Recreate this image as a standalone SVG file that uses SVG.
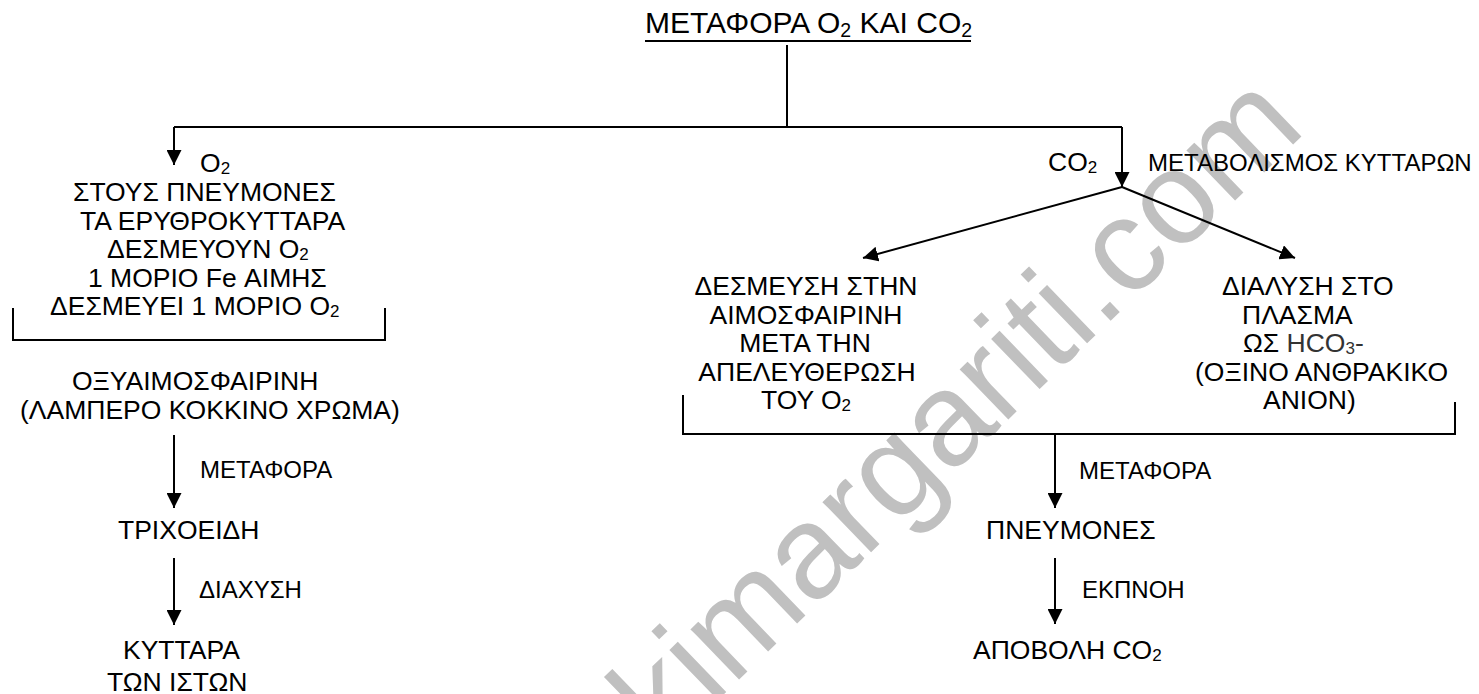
<svg xmlns="http://www.w3.org/2000/svg" width="1479" height="694" viewBox="0 0 1479 694">
<defs>
<style>
text{font-family:"Liberation Sans",Arial,sans-serif;fill:#000}
.m{font-size:26.5px}
.l{font-size:24px}
.t{font-size:30px}
.c{text-anchor:middle}
.wm{font-family:"Liberation Sans",Arial,sans-serif;font-size:132px;fill:#c0c0c0}
.ln{stroke:#000;stroke-width:2;fill:none}
</style>
<marker id="ah" viewBox="0 0 10 10" refX="10" refY="5" markerWidth="15" markerHeight="15" markerUnits="userSpaceOnUse" orient="auto">
<path d="M0,0 L10,5 L0,10 z" fill="#000"/>
</marker>
</defs>
<rect width="1479" height="694" fill="#fff"/>
<text class="wm" x="664" y="752" transform="rotate(-44 664 752)">kimargariti.com</text>

<g id="connectors">
<path class="ln" d="M787,45 V127"/>
<path class="ln" d="M174,127 H1122"/>
<path class="ln" d="M174,127 V165" marker-end="url(#ah)"/>
<path class="ln" d="M1122,127 V187" marker-end="url(#ah)"/>
<path class="ln" d="M1122,187 L863,258" marker-end="url(#ah)"/>
<path class="ln" d="M1122,187 L1295,258" marker-end="url(#ah)"/>
<path class="ln" d="M13,308 V340 H385 V308"/>
<path class="ln" d="M683,395 V434 H1455 V402"/>
<path class="ln" d="M174,435 V508" marker-end="url(#ah)"/>
<path class="ln" d="M174,558 V625" marker-end="url(#ah)"/>
<path class="ln" d="M1055,434 V508" marker-end="url(#ah)"/>
<path class="ln" d="M1055,558 V624" marker-end="url(#ah)"/>
</g>

<g id="title">
<text class="t" x="645" y="33">ΜΕΤΑΦΟΡΑ O<tspan font-size="19.5" dy="4">2</tspan><tspan dy="-4"> ΚΑΙ CO</tspan><tspan font-size="19.5" dy="4">2</tspan></text>
<path class="ln" d="M645,41 H971"/>
</g>

<g id="o2-node">
<text class="m" x="200" y="172">O<tspan font-size="17" dy="2">2</tspan></text>
<text class="m" x="73" y="201">ΣΤΟΥΣ ΠΝΕΥΜΟΝΕΣ</text>
<text class="m" x="80" y="230">ΤΑ ΕΡΥΘΡΟΚΥΤΤΑΡΑ</text>
<text class="m" x="107" y="258">ΔΕΣΜΕΥΟΥΝ O<tspan font-size="17" dy="2">2</tspan></text>
<text class="m" x="88" y="287">1 ΜΟΡΙΟ Fe ΑΙΜΗΣ</text>
<text class="m" x="50" y="315">ΔΕΣΜΕΥΕΙ 1 ΜΟΡΙΟ O<tspan font-size="17" dy="2">2</tspan></text>
</g>

<g id="oxyhemoglobin">
<text class="m" x="72" y="390">ΟΞΥΑΙΜΟΣΦΑΙΡΙΝΗ</text>
<text class="m" x="20" y="419">(ΛΑΜΠΕΡΟ ΚΟΚΚΙΝΟ ΧΡΩΜΑ)</text>
</g>
<g id="label-metafora-left"><text class="l" x="200" y="478">ΜΕΤΑΦΟΡΑ</text></g>
<g id="capillaries"><text class="m" x="118" y="539">ΤΡΙΧΟΕΙΔΗ</text></g>
<g id="label-diachysi"><text class="l" x="199" y="598">ΔΙΑΧΥΣΗ</text></g>
<g id="tissue-cells">
<text class="m" x="123" y="659">ΚΥΤΤΑΡΑ</text>
<text class="m" x="107" y="691">ΤΩΝ ΙΣΤΩΝ</text>
</g>

<g id="co2-node">
<text class="m" x="1048" y="171">CO<tspan font-size="17" dy="2">2</tspan></text>
<text class="l" x="1148" y="171">ΜΕΤΑΒΟΛΙΣΜΟΣ ΚΥΤΤΑΡΩΝ</text>
</g>

<g id="hemoglobin-binding">
<text class="m c" x="806" y="295">ΔΕΣΜΕΥΣΗ ΣΤΗΝ</text>
<text class="m c" x="806" y="324">ΑΙΜΟΣΦΑΙΡΙΝΗ</text>
<text class="m c" x="805" y="352">ΜΕΤΑ ΤΗΝ</text>
<text class="m c" x="807" y="381">ΑΠΕΛΕΥΘΕΡΩΣΗ</text>
<text class="m c" x="806" y="409">ΤΟΥ O<tspan font-size="17" dy="2">2</tspan></text>
</g>

<g id="plasma-dissolution">
<text class="m" x="1222" y="295">ΔΙΑΛΥΣΗ ΣΤΟ</text>
<text class="m" x="1242" y="324">ΠΛΑΣΜΑ</text>
<text class="m" x="1243" y="352">ΩΣ <tspan fill="#333">HCO</tspan><tspan fill="#333" font-size="17" dy="2">3</tspan><tspan fill="#333" dy="-2">-</tspan></text>
<text class="m" x="1195" y="381">(ΟΞΙΝΟ ΑΝΘΡΑΚΙΚΟ</text>
<text class="m" x="1263" y="409">ΑΝΙΟΝ)</text>
</g>

<g id="label-metafora-right"><text class="l" x="1079" y="479">ΜΕΤΑΦΟΡΑ</text></g>
<g id="lungs"><text class="m" x="986" y="539">ΠΝΕΥΜΟΝΕΣ</text></g>
<g id="label-ekpnoi"><text class="l" x="1082" y="598">ΕΚΠΝΟΗ</text></g>
<g id="co2-removal"><text class="m" x="973" y="659">ΑΠΟΒΟΛΗ CO<tspan font-size="17" dy="2">2</tspan></text></g>
</svg>
